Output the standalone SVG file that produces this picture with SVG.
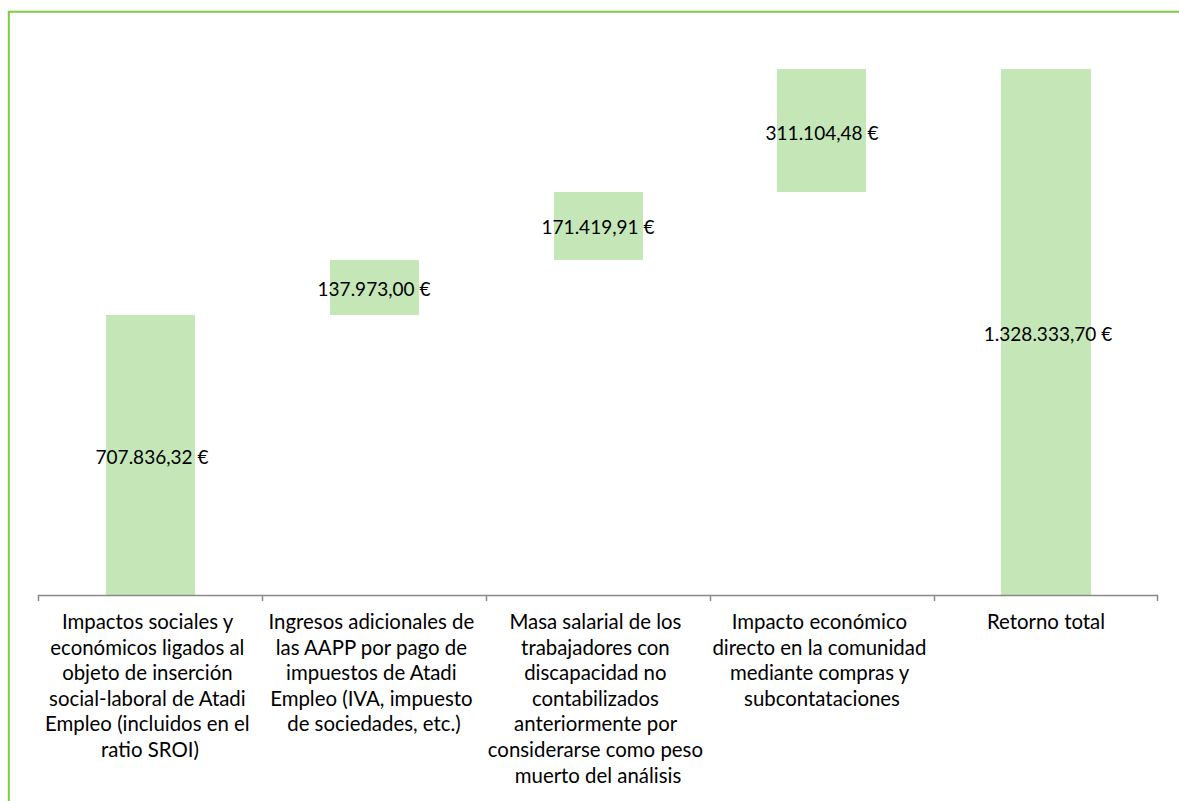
<svg xmlns="http://www.w3.org/2000/svg" width="1179" height="801" viewBox="0 0 1179 801">
  <style>
    .frame { fill: none; stroke: #7ccc44; stroke-width: 2; }
    .bar { fill: #c5e7b7; }
    .axis { fill: none; stroke: #898989; stroke-width: 1.5; }
    .val { font-family: Lato, "Liberation Sans", sans-serif; font-size: 19px; fill: #000; text-anchor: middle; dominant-baseline: central; }
    .cat { font-family: Lato, "Liberation Sans", sans-serif; font-size: 20.4px; fill: #000; text-anchor: middle; }
  </style>
  <rect width="1179" height="801" fill="#ffffff"/>
  <!-- chart frame: top and left edges -->
  <path class="frame" d="M8.8 801 V11.8 H1179"/>

  <!-- floating bars with value labels -->
  <g id="bar-impactos">
    <rect class="bar" x="106" y="315" width="89" height="280"/>
    <text class="val" x="152" y="456">707.836,32 €</text>
  </g>
  <g id="bar-ingresos">
    <rect class="bar" x="330" y="260" width="89" height="55"/>
    <text class="val" x="374" y="288">137.973,00 €</text>
  </g>
  <g id="bar-masa">
    <rect class="bar" x="554" y="192" width="89" height="68"/>
    <text class="val" x="598" y="226">171.419,91 €</text>
  </g>
  <g id="bar-impacto-economico">
    <rect class="bar" x="777" y="69" width="89" height="123"/>
    <text class="val" x="822" y="132">311.104,48 €</text>
  </g>
  <g id="bar-total">
    <rect class="bar" x="1001" y="69" width="90" height="526"/>
    <text class="val" x="1048" y="333">1.328.333,70 €</text>
  </g>

  <!-- category axis with tick marks -->
  <g id="connectors">
    <path class="axis" d="M38.5 601 V595.5 H1157.5 V601 M262.5 595.5 V601 M486.5 595.5 V601 M710.5 595.5 V601 M934.5 595.5 V601"/>
  </g>

  <!-- category labels -->
  <g id="label-impactos">
    <text class="cat" x="150" y="629">
      <tspan x="150">Impactos sociales y</tspan>
      <tspan x="150" dy="25.6">económicos ligados al</tspan>
      <tspan x="150" dy="25.6">objeto de inserción</tspan>
      <tspan x="150" dy="25.6">social-laboral de Atadi</tspan>
      <tspan x="150" dy="25.6">Empleo (incluidos en el</tspan>
      <tspan x="150" dy="25.6">ratio SROI)</tspan>
    </text>
  </g>
  <g id="label-ingresos">
    <text class="cat" x="374" y="629">
      <tspan x="374">Ingresos adicionales de</tspan>
      <tspan x="374" dy="25.6">las AAPP por pago de</tspan>
      <tspan x="374" dy="25.6">impuestos de Atadi</tspan>
      <tspan x="374" dy="25.6">Empleo (IVA, impuesto</tspan>
      <tspan x="374" dy="25.6">de sociedades, etc.)</tspan>
    </text>
  </g>
  <g id="label-masa">
    <text class="cat" x="598" y="629">
      <tspan x="598">Masa salarial de los</tspan>
      <tspan x="598" dy="25.6">trabajadores con</tspan>
      <tspan x="598" dy="25.6">discapacidad no</tspan>
      <tspan x="598" dy="25.6">contabilizados</tspan>
      <tspan x="598" dy="25.6">anteriormente por</tspan>
      <tspan x="598" dy="25.6">considerarse como peso</tspan>
      <tspan x="598" dy="25.6">muerto del análisis</tspan>
    </text>
  </g>
  <g id="label-impacto-economico">
    <text class="cat" x="822" y="629">
      <tspan x="822">Impacto económico</tspan>
      <tspan x="822" dy="25.6">directo en la comunidad</tspan>
      <tspan x="822" dy="25.6">mediante compras y</tspan>
      <tspan x="822" dy="25.6">subcontataciones</tspan>
    </text>
  </g>
  <g id="label-total">
    <text class="cat" x="1046" y="629">Retorno total</text>
  </g>
</svg>
